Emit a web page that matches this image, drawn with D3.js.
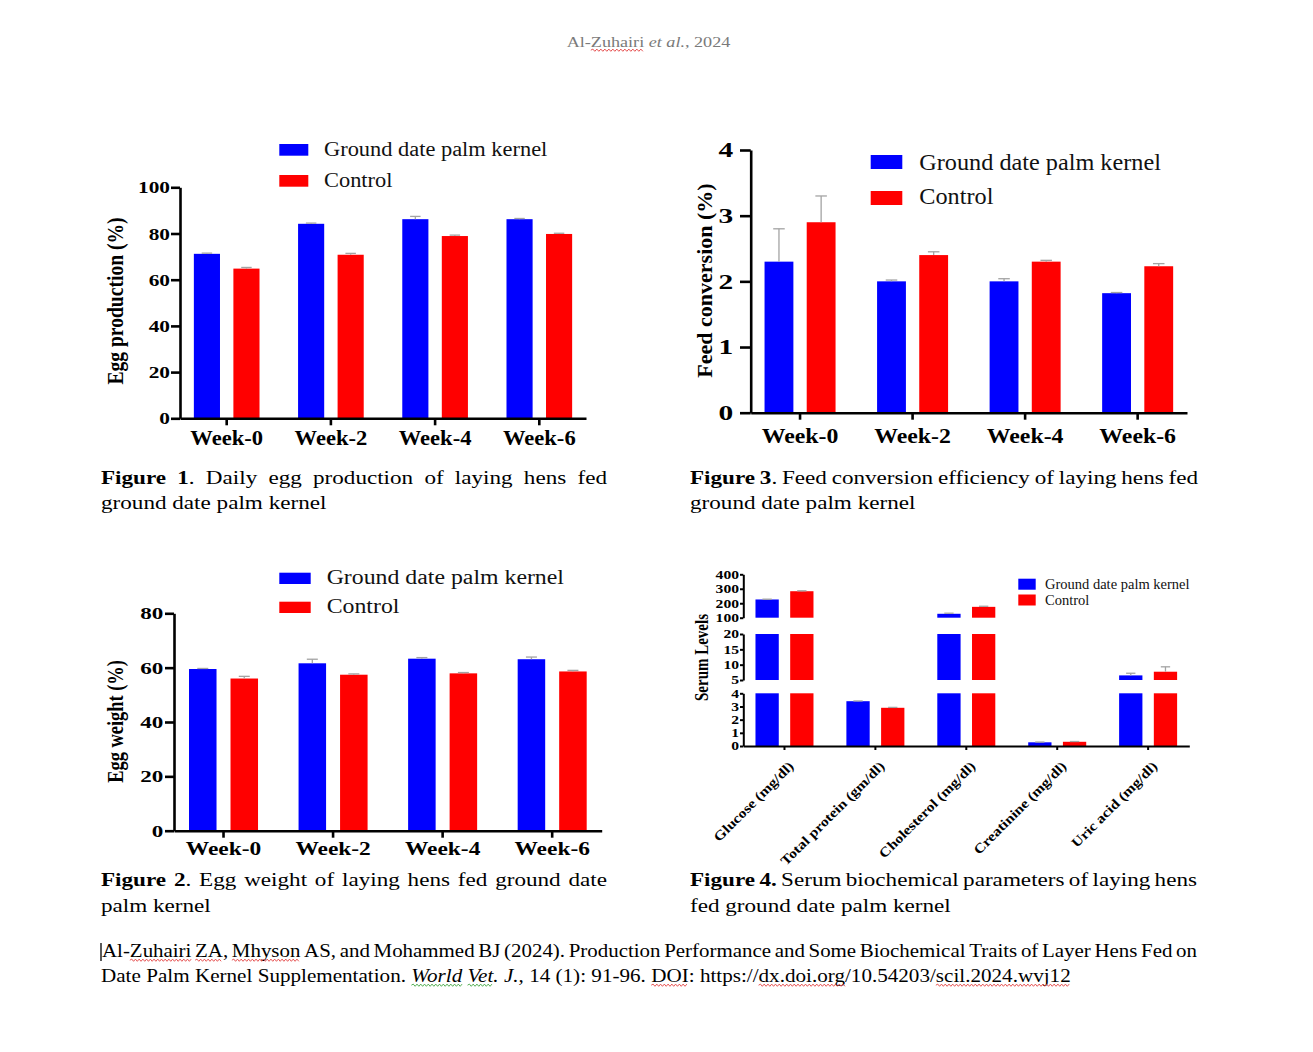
<!DOCTYPE html>
<html><head><meta charset="utf-8">
<script src="https://cdn.jsdelivr.net/npm/d3@7"></script>
<style>
body{margin:0;background:#fff;}
svg{display:block;}
text{font-family:"Liberation Serif","Times New Roman",serif;}
</style></head><body>
<svg id="c" width="1313" height="1052"></svg>
<script>
// ---------------- DATA ----------------
const weeks = ["Week-0", "Week-2", "Week-4", "Week-6"];
const seriesNames = ["Ground date palm kernel", "Control"];

const eggProductionGround = [71.2, 84.2, 86.2, 86.2];
const eggProductionGroundErr = [0.3, 0.3, 1.2, 0.3];
const eggProductionControl = [64.8, 70.8, 78.9, 79.8];
const eggProductionControlErr = [0.5, 0.6, 0.4, 0.3];
const eggProductionTicks = [0, 20, 40, 60, 80, 100];

const feedConversionGround = [2.30, 2.00, 2.00, 1.82];
const feedConversionGroundErr = [0.50, 0.02, 0.04, 0.01];
const feedConversionControl = [2.90, 2.40, 2.30, 2.23];
const feedConversionControlErr = [0.40, 0.05, 0.02, 0.04];
const feedConversionTicks = [0, 1, 2, 3, 4];

const eggWeightGround = [59.5, 61.6, 63.3, 63.1];
const eggWeightGroundErr = [0.2, 1.5, 0.4, 0.8];
const eggWeightControl = [56.0, 57.4, 57.9, 58.6];
const eggWeightControlErr = [0.8, 0.3, 0.3, 0.4];
const eggWeightTicks = [0, 20, 40, 60, 80];

const serumParams = ["Glucose (mg/dl)", "Total protein (gm/dl)", "Cholesterol (mg/dl)", "Creatinine (mg/dl)", "Uric acid (mg/dl)"];
const serumGround = [226, 3.4, 127, 0.28, 6.5];
const serumGroundErr = [2, 0.02, 4, 0.02, 0.7];
const serumControl = [283, 2.9, 175, 0.32, 7.7];
const serumControlErr = [3, 0.03, 4, 0.02, 1.6];
const serumSegments = [[0, 4], [5, 20], [100, 400]];
const serumSegmentTicks = [[0, 1, 2, 3, 4], [5, 10, 15, 20], [100, 200, 300, 400]];

const headerText = "Al-[r:Zuhairi] _et al._, 2024";
const captionFig1 = ["*Figure* *1*. Daily egg production of laying hens fed", "ground date palm kernel"];
const captionFig3 = ["*Figure* *3*. Feed conversion efficiency of laying hens fed", "ground date palm kernel"];
const captionFig2 = ["*Figure* *2*. Egg weight of laying hens fed ground date", "palm kernel"];
const captionFig4 = ["*Figure* *4.* Serum biochemical parameters of laying hens", "fed ground date palm kernel"];
const citation = [
  "Al-[r:Zuhairi] [r:ZA], [r:Mhyson] AS, and Mohammed BJ (2024). Production Performance and Some Biochemical Traits of Layer Hens Fed on",
  "Date Palm Kernel Supplementation. _[g:World] [g:Vet]._ _J.,_ 14 (1): 91-96. [r:DOI]: https://[r:dx.doi.org]/10.54203/[r:scil.2024.wvj12]"
];

// ---------------- STYLE ----------------
const seriesColors = ["#0000ff", "#ff0000"];
const errColor = "#a3a3a3";
const intFmt = d3.format("d");
const svg = d3.select("#c");
svg.append("rect").attr("width", 1313).attr("height", 1052).attr("fill", "#fff");

function stretchText(sel, f) {
  sel.each(function () {
    const L = this.getComputedTextLength();
    if (L > 0) d3.select(this).attr("textLength", L * f).attr("lengthAdjust", "spacingAndGlyphs");
  });
}

function styleAxis(ax, sw, fs, stretch) {
  ax.attr("font-family", "Liberation Serif").attr("font-size", fs).attr("font-weight", "bold");
  ax.select(".domain").attr("stroke", "#000").attr("stroke-width", sw);
  ax.selectAll(".tick line").attr("stroke", "#000").attr("stroke-width", sw);
  ax.selectAll(".tick text").attr("fill", "#000");
  if (stretch) stretchText(ax.selectAll(".tick text"), stretch);
}

function legend(g, o) {
  seriesNames.forEach((name, i) => {
    g.append("rect").attr("x", o.rx).attr("y", o.ry[i]).attr("width", o.rw).attr("height", o.rh)
      .attr("fill", seriesColors[i]);
    const t = g.append("text").attr("x", o.tx).attr("y", o.tb[i]).attr("font-size", o.fs)
      .attr("fill", "#111").text(name);
    stretchText(t, o.st);
  });
}

function yTitle(g, text, o) {
  g.append("text")
    .attr("transform", `translate(${o.x},${o.cy}) scale(${o.sx},1) rotate(-90)`)
    .attr("text-anchor", "middle").attr("font-size", o.fs).attr("font-weight", "bold")
    .attr("fill", "#000").text(text);
}

function errBar(g, cx, w, yTop, yEnd) {
  g.append("line").attr("x1", cx).attr("x2", cx).attr("y1", yTop).attr("y2", yEnd)
    .attr("stroke", errColor).attr("stroke-width", 1.3);
  g.append("line").attr("x1", cx - w / 2).attr("x2", cx + w / 2).attr("y1", yEnd).attr("y2", yEnd)
    .attr("stroke", errColor).attr("stroke-width", 1.3);
}

function groupedChart(o) {
  const g = svg.append("g");
  const x = d3.scaleBand().domain(weeks).range([o.x0, o.x1]).paddingInner(o.pi).paddingOuter(o.po);
  const xs = d3.scaleBand().domain(seriesNames).range([0, x.bandwidth()]).paddingInner(o.spi);
  const y = d3.scaleLinear().domain([0, d3.max(o.ticks)]).range([o.yb, o.yt]);

  weeks.forEach((wk, i) => {
    seriesNames.forEach((s, si) => {
      const v = o.values[si][i], e = o.errors[si][i];
      const bx = x(wk) + xs(s);
      g.append("rect").attr("x", bx).attr("y", y(v)).attr("width", xs.bandwidth())
        .attr("height", y(0) - y(v)).attr("fill", seriesColors[si]);
      errBar(g, bx + xs.bandwidth() / 2, xs.bandwidth() * 0.4, y(v), y(v + e));
    });
  });

  const ya = g.append("g").attr("transform", `translate(${o.x0},0)`)
    .call(d3.axisLeft(y).tickValues(o.ticks).tickFormat(intFmt).tickSize(o.tl).tickPadding(o.tp).tickSizeOuter(0));
  styleAxis(ya, o.sw, o.tfs, o.tst);

  const xa = g.append("g").attr("transform", `translate(0,${o.yb})`)
    .call(d3.axisBottom(x).tickSize(o.xtl).tickSizeOuter(0));
  styleAxis(xa, o.sw, o.wfs, null);
  xa.selectAll(".tick text").attr("y", o.wb - o.yb).attr("dy", 0);
  stretchText(xa.selectAll(".tick text"), o.wst);

  legend(g, o.leg);
  yTitle(g, o.title, o.tt);
}

// Figure 1
groupedChart({
  values: [eggProductionGround, eggProductionControl],
  errors: [eggProductionGroundErr, eggProductionControlErr],
  ticks: eggProductionTicks,
  x0: 180, x1: 586, pi: 0.37, po: 0.133, spi: 0.339, yb: 418.3, yt: 187.3,
  tl: 9, tp: 1, tfs: 17.5, tst: 1.22, sw: 2.6, xtl: 7, wfs: 20.5, wst: 1.1, wb: 445,
  leg: { rx: 279.3, rw: 29, rh: 11.7, ry: [144, 175], tx: 324, tb: [156, 186.7], fs: 20, st: 1.12 },
  title: "Egg production (%)", tt: { x: 123, cy: 301, sx: 1.2, fs: 19.6 }
});

// Figure 3
groupedChart({
  values: [feedConversionGround, feedConversionControl],
  errors: [feedConversionGroundErr, feedConversionControlErr],
  ticks: feedConversionTicks,
  x0: 750.7, x1: 1187, pi: 0.369, po: 0.123, spi: 0.316, yb: 412.7, yt: 150,
  tl: 10.7, tp: 6.7, tfs: 21, tst: 1.4, sw: 2.6, xtl: 7, wfs: 20.5, wst: 1.16, wb: 443,
  leg: { rx: 870.7, rw: 31.6, rh: 14, ry: [155, 191], tx: 919.3, tb: [170, 204], fs: 24, st: 1.01 },
  title: "Feed conversion (%)", tt: { x: 712, cy: 280.5, sx: 1, fs: 22 }
});

// Figure 2
groupedChart({
  values: [eggWeightGround, eggWeightControl],
  errors: [eggWeightGroundErr, eggWeightControlErr],
  ticks: eggWeightTicks,
  x0: 174, x1: 601.7, pi: 0.37, po: 0.137, spi: 0.337, yb: 830.7, yt: 613.3,
  tl: 9, tp: 1.7, tfs: 17.5, tst: 1.32, sw: 2.6, xtl: 7, wfs: 19.5, wst: 1.2, wb: 855,
  leg: { rx: 279.3, rw: 31.4, rh: 11.3, ry: [572.7, 601.7], tx: 326.7, tb: [584, 613.3], fs: 20, st: 1.19 },
  title: "Egg weight (%)", tt: { x: 123, cy: 721.5, sx: 1.2, fs: 18.4 }
});

// Figure 4 (broken y axis)
(function () {
  const o = { x0: 743.3, x1: 1189.3, pi: 0.362, po: 0.134, spi: 0.329, yb: 746,
    segRanges: [[746, 693.3], [680, 634], [617.7, 574.3]], sw: 2 };
  const g = svg.append("g");
  const x = d3.scaleBand().domain(serumParams).range([o.x0, o.x1]).paddingInner(o.pi).paddingOuter(o.po);
  const xs = d3.scaleBand().domain(seriesNames).range([0, x.bandwidth()]).paddingInner(o.spi);
  const segs = serumSegments.map((d, i) => ({ lo: d[0], hi: d[1], ticks: serumSegmentTicks[i],
    scale: d3.scaleLinear().domain(d).range(o.segRanges[i]) }));
  const vals = [serumGround, serumControl], errs = [serumGroundErr, serumControlErr];

  serumParams.forEach((p, i) => {
    seriesNames.forEach((s, si) => {
      const v = vals[si][i], e = errs[si][i];
      const bx = x(p) + xs(s), bw = xs.bandwidth();
      segs.forEach(sg => {
        if (v > sg.lo) {
          const top = sg.scale(Math.min(v, sg.hi));
          g.append("rect").attr("x", bx).attr("y", top).attr("width", bw)
            .attr("height", sg.scale(sg.lo) - top).attr("fill", seriesColors[si]);
        }
        if (v > sg.lo && v <= sg.hi) {
          errBar(g, bx + bw / 2, bw * 0.4, sg.scale(v), sg.scale(Math.min(v + e, sg.hi)));
        }
      });
    });
  });

  segs.forEach(sg => {
    const ya = g.append("g").attr("transform", `translate(${o.x0},0)`)
      .call(d3.axisLeft(sg.scale).tickValues(sg.ticks).tickFormat(intFmt).tickSize(3.3).tickPadding(1).tickSizeOuter(0));
    styleAxis(ya, o.sw, 12, 1.3);
  });

  const xa = g.append("g").attr("transform", `translate(0,${o.yb})`)
    .call(d3.axisBottom(x).tickSize(4).tickSizeOuter(0).tickFormat(""));
  styleAxis(xa, o.sw, 12, null);

  serumParams.forEach(p => {
    const cx = x(p) + x.bandwidth() / 2;
    const t = g.append("text").attr("transform", `translate(${cx + 10},767) rotate(-45)`)
      .attr("text-anchor", "end").attr("font-size", 13.5).attr("font-weight", "bold").attr("fill", "#000").text(p);
    stretchText(t, 1.17);
  });

  legend(g, { rx: 1018.3, rw: 17.4, rh: 11, ry: [578.7, 594.5], tx: 1045, tb: [589, 604.5], fs: 14.5, st: 1.0 });
  yTitle(g, "Serum Levels", { x: 708, cy: 657.5, sx: 1.2, fs: 15 });
})();

// ---------------- PAGE TEXT ----------------
function parseLine(str) {
  const words = [];
  let word = [], seg = null, st = { b: false, i: false, u: null };
  const flush = () => { if (seg && seg.t.length) word.push(seg); seg = null; };
  const add = ch => { if (!seg) seg = { t: "", b: st.b, i: st.i, u: st.u }; seg.t += ch; };
  for (let k = 0; k < str.length; k++) {
    const ch = str[k];
    if (ch === "*") { flush(); st.b = !st.b; }
    else if (ch === "_") { flush(); st.i = !st.i; }
    else if (ch === "[" && str[k + 2] === ":") { flush(); st.u = str[k + 1]; k += 2; }
    else if (ch === "]") { flush(); st.u = null; }
    else if (ch === " ") { flush(); if (word.length) words.push(word); word = []; }
    else add(ch);
  }
  flush(); if (word.length) words.push(word);
  return words;
}

function wavy(x1, x2, y) {
  let d = `M${x1},${y}`, up = true;
  for (let xx = x1 + 1.6; xx <= x2; xx += 1.6) { d += `L${xx},${y + (up ? -1.1 : 1.1)}`; up = !up; }
  return d;
}

function pageLine(markup, x0, y, size, opts) {
  const words = parseLine(markup);
  const g = svg.append("g");
  const fill = opts.fill || "#000";
  const texts = words.map(w => {
    const t = g.append("text").attr("y", 0).attr("font-size", size).attr("fill", fill);
    w.forEach(seg => {
      const ts = t.append("tspan").text(seg.t).attr("font-weight", seg.b ? "bold" : "normal")
        .attr("font-style", seg.i ? "italic" : "normal");
      seg.node = ts.node();
    });
    return t;
  });
  const widths = texts.map(t => t.node().getComputedTextLength());
  const sum = d3.sum(widths), n = words.length, sp = 0.25 * size;
  let s = opts.s || 1.25, gap = sp;
  const natural = sum + sp * (n - 1);
  if (opts.fit) s = (opts.fit - x0) / natural;
  else if (opts.justify) {
    gap = ((opts.justify - x0) / s - sum) / (n - 1);
    if (gap < sp * 0.7) { gap = sp * 0.7; s = (opts.justify - x0) / (sum + gap * (n - 1)); }
  } else if (opts.center != null) x0 = opts.center - natural * s / 2;
  g.attr("transform", `translate(${x0},${y}) scale(${s},1)`);
  let cx = 0;
  texts.forEach((t, i) => {
    t.attr("x", cx);
    let sx = cx;
    words[i].forEach(seg => {
      const L = seg.node.getComputedTextLength();
      if (seg.u) g.append("path").attr("d", wavy(sx, sx + L, 3.2)).attr("fill", "none")
        .attr("stroke", seg.u === "r" ? "#e23b3b" : "#3aa33a").attr("stroke-width", 0.8);
      sx += L;
    });
    cx += widths[i] + gap;
  });
}

pageLine(headerText, 0, 47, 14.5, { center: 648.5, fill: "#7a7a7a" });

pageLine(captionFig1[0], 101, 483.5, 18.5, { justify: 607 });
pageLine(captionFig1[1], 101, 509, 18.5, {});
pageLine(captionFig3[0], 690, 483.5, 18.5, { justify: 1198 });
pageLine(captionFig3[1], 690, 509, 18.5, {});
pageLine(captionFig2[0], 101, 886, 18.5, { justify: 607 });
pageLine(captionFig2[1], 101, 912, 18.5, {});
pageLine(captionFig4[0], 690, 886, 18.5, { justify: 1197 });
pageLine(captionFig4[1], 690, 912, 18.5, {});

pageLine(citation[0], 102, 957, 18, { justify: 1197 });
pageLine(citation[1], 101, 982, 18, { fit: 1071 });
svg.append("line").attr("x1", 101).attr("x2", 101).attr("y1", 943).attr("y2", 961)
  .attr("stroke", "#000").attr("stroke-width", 1.3);
</script>
</body></html>
